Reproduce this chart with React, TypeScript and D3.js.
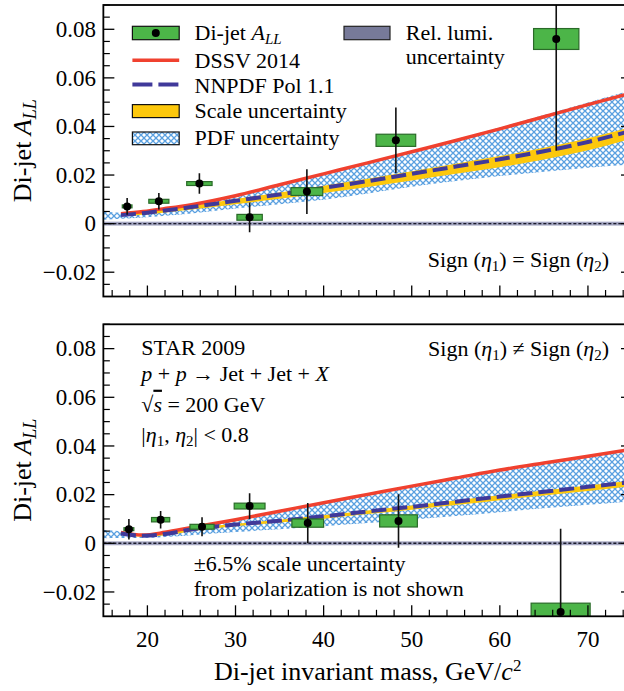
import React from "react";
import * as d3 from "d3";

// ---------- data ----------
const thX = [17, 19.5, 22, 25, 30, 35, 40, 45, 50, 55, 60, 65, 70, 75];
const pdfX = [15, 17, 19.5, 22, 25, 30, 35, 40, 45, 50, 55, 60, 65, 70, 75];

// Top panel: Sign(eta1) = Sign(eta2)
const topX = [17.7, 21.3, 25.9, 31.6, 38.1, 48.2, 66.4];
const topY = [0.0071, 0.0092, 0.0165, 0.0026, 0.0132, 0.0343, 0.076];
const topStat = [0.0034, 0.0034, 0.0042, 0.0061, 0.0092, 0.0135, 0.046];
const topSysX = [0.55, 1.14, 1.44, 1.44, 1.8, 2.25, 2.57];
const topSysY = [0.0006, 0.0008, 0.0008, 0.0012, 0.0016, 0.0025, 0.0043];
const dssvTop = [0.0041, 0.005, 0.0062, 0.0078, 0.0115, 0.016, 0.0205, 0.025, 0.0296, 0.0342, 0.039, 0.044, 0.049, 0.0538];
const nnpdfTop = [0.0035, 0.0043, 0.0054, 0.0068, 0.0094, 0.012, 0.0147, 0.0175, 0.0205, 0.0235, 0.0265, 0.0298, 0.0336, 0.0383];
const scaleHiTop = [0.0038, 0.0046, 0.0058, 0.0073, 0.0101, 0.0128, 0.0156, 0.0185, 0.0216, 0.0247, 0.0278, 0.0312, 0.0351, 0.0398];
const scaleLoTop = [0.0031, 0.0037, 0.0046, 0.0058, 0.008, 0.0102, 0.0126, 0.0151, 0.0178, 0.0205, 0.0232, 0.0264, 0.0302, 0.0351];
const pdfHiTop = [0.005, 0.0045, 0.0052, 0.0064, 0.008, 0.0118, 0.0163, 0.0208, 0.0254, 0.03, 0.0347, 0.0396, 0.0447, 0.0499, 0.055];
const pdfLoTop = [0.0016, 0.002, 0.0025, 0.0032, 0.0042, 0.0062, 0.008, 0.0098, 0.0124, 0.0152, 0.0175, 0.0196, 0.0214, 0.023, 0.0244];

// Bottom panel: Sign(eta1) != Sign(eta2)
const botX = [17.9, 21.5, 26.2, 31.6, 38.2, 48.5, 66.9];
const botY = [0.0058, 0.0097, 0.0068, 0.0153, 0.0083, 0.0092, -0.0282];
const botStat = [0.0042, 0.0036, 0.0039, 0.0053, 0.0083, 0.011, 0.0342];
const botSysX = [0.56, 1.03, 1.37, 1.75, 1.8, 2.14, 3.35];
const botSysY = [0.0006, 0.0009, 0.001, 0.0012, 0.0017, 0.0025, 0.0036];
const dssvBot = [0.0045, 0.0034, 0.0045, 0.0065, 0.0097, 0.0132, 0.0167, 0.0201, 0.0235, 0.0268, 0.0301, 0.033, 0.0358, 0.0387];
const nnpdfBot = [0.004, 0.0031, 0.0038, 0.0057, 0.0077, 0.0093, 0.0111, 0.0131, 0.015, 0.0171, 0.0192, 0.0212, 0.0232, 0.0252];
const scaleHiBot = [0.0042, 0.0033, 0.004, 0.006, 0.008, 0.0097, 0.0115, 0.0135, 0.0155, 0.0176, 0.0197, 0.0217, 0.0238, 0.0258];
const scaleLoBot = [0.0037, 0.0027, 0.0033, 0.005, 0.007, 0.0085, 0.0101, 0.012, 0.0138, 0.0157, 0.0177, 0.0196, 0.0215, 0.0235];
const pdfHiBot = [0.0055, 0.005, 0.0037, 0.0047, 0.0068, 0.0101, 0.0135, 0.0169, 0.0204, 0.0238, 0.0271, 0.0304, 0.0334, 0.0362, 0.0391];
const pdfLoBot = [0.0021, 0.0022, 0.0022, 0.0026, 0.0033, 0.0046, 0.0058, 0.007, 0.0083, 0.0097, 0.0112, 0.0128, 0.0144, 0.0158, 0.0172];

const relLumi = 0.0008;
const xMajorTicks = [20, 30, 40, 50, 60, 70];
const yMajorTicks = [-0.02, 0, 0.02, 0.04, 0.06, 0.08];
const yTickLabels = ["\u22120.02", "0", "0.02", "0.04", "0.06", "0.08"];

// ---------- style ----------
const FONT = "'Liberation Serif', 'Times New Roman', serif";
const GREEN = "#4cb548";
const GREEN_STROKE = "#2a6a28";
const RED = "#f0412f";
const PURPLE = "#40399a";
const YELLOW = "#fdc80c";
const HATCH = "#5aa0e0";
const LUMI = "#8c8fb0";

const W = 624;
const H = 691;
const xS = d3.scaleLinear().domain([15, 75]).range([103.35, 632]);

type PanelProps = {
  id: string;
  y0: number;
  y1: number;
  px: number[]; py: number[]; stat: number[]; sx: number[]; sy: number[];
  dssv: number[]; nn: number[]; sHi: number[]; sLo: number[]; pHi: number[]; pLo: number[];
  showXLabels: boolean;
  children?: React.ReactNode;
};

function Panel(p: PanelProps) {
  const yS = d3.scaleLinear().domain([-0.03, 0.09]).range([p.y1, p.y0]);
  const xl = xS.range()[0];
  const xr = xS.range()[1];
  const line = (ys: number[]) =>
    d3.line<number>().x((_, i) => xS(thX[i])).y((v) => yS(v)).curve(d3.curveMonotoneX)(ys) || "";
  const band = (xs: number[], lo: number[], hi: number[]) =>
    d3.area<number>().x((_, i) => xS(xs[i])).y0((_, i) => yS(lo[i])).y1((_, i) => yS(hi[i])).curve(d3.curveMonotoneX)(lo) || "";
  const xMinor = d3.range(16, 75, 2).filter((v) => v % 10 !== 0);
  const yMinor = d3.range(-0.025, 0.0901, 0.005).filter((v) => Math.abs(Math.round(v * 1000) % 20) !== 0);
  return (
    <g>
      <defs>
        <clipPath id={"clip-" + p.id}>
          <rect x={xl} y={p.y0} width={xr - xl} height={p.y1 - p.y0} />
        </clipPath>
      </defs>
      <g clipPath={`url(#clip-${p.id})`}>
        <path d={band(pdfX, p.pLo, p.pHi)} fill="url(#hatch)" />
        <path d={band(thX, p.sLo, p.sHi)} fill={YELLOW} />
        <rect x={xl} y={yS(relLumi)} width={xr - xl} height={yS(-relLumi) - yS(relLumi)} fill={LUMI} opacity={0.8} />
        <line x1={xl} x2={xr} y1={yS(0)} y2={yS(0)} stroke="#1a1a2a" strokeWidth={1.4} strokeDasharray="3 2" />
        <path d={line(p.dssv)} fill="none" stroke={RED} strokeWidth={3.5} />
        <path d={line(p.nn)} fill="none" stroke={PURPLE} strokeWidth={4} strokeDasharray="15 6" />
        {p.px.map((x, i) => (
          <rect key={"b" + i} x={xS(x - p.sx[i])} y={yS(p.py[i] + p.sy[i])}
            width={xS(x + p.sx[i]) - xS(x - p.sx[i])} height={yS(p.py[i] - p.sy[i]) - yS(p.py[i] + p.sy[i])}
            fill={GREEN} stroke={GREEN_STROKE} strokeWidth={1.2} />
        ))}
        {p.px.map((x, i) => (
          <line key={"e" + i} x1={xS(x)} x2={xS(x)} y1={yS(p.py[i] - p.stat[i])} y2={yS(p.py[i] + p.stat[i])}
            stroke="#111" strokeWidth={1.6} />
        ))}
        {p.px.map((x, i) => (
          <circle key={"c" + i} cx={xS(x)} cy={yS(p.py[i])} r={4} fill="#000" />
        ))}
      </g>
      {xMajorTicks.map((t) => (
        <line key={"xt" + t} x1={xS(t)} x2={xS(t)} y1={p.y1} y2={p.y1 - 11} stroke="#000" strokeWidth={1.3} />
      ))}
      {xMinor.map((t) => (
        <line key={"xm" + t} x1={xS(t)} x2={xS(t)} y1={p.y1} y2={p.y1 - 6.5} stroke="#000" strokeWidth={1.2} />
      ))}
      {yMajorTicks.map((t) => (
        <g key={"yt" + t}>
          <line x1={xl} x2={xl + 11} y1={yS(t)} y2={yS(t)} stroke="#000" strokeWidth={1.3} />
          <line x1={xr} x2={xr - 11} y1={yS(t)} y2={yS(t)} stroke="#000" strokeWidth={1.3} />
        </g>
      ))}
      {yMinor.map((t, i) => (
        <g key={"ym" + i}>
          <line x1={xl} x2={xl + 6.5} y1={yS(t)} y2={yS(t)} stroke="#000" strokeWidth={1.2} />
          <line x1={xr} x2={xr - 6.5} y1={yS(t)} y2={yS(t)} stroke="#000" strokeWidth={1.2} />
        </g>
      ))}
      <rect x={xl} y={p.y0} width={xr - xl} height={p.y1 - p.y0} fill="none" stroke="#000" strokeWidth={1.8} />
      {yMajorTicks.map((t, i) => (
        <text key={"yl" + t} x={96} y={yS(t)} dy="0.34em" textAnchor="end" fontSize={23} fontFamily={FONT}>
          {yTickLabels[i]}
        </text>
      ))}
      {p.showXLabels &&
        xMajorTicks.map((t) => (
          <text key={"xl" + t} x={xS(t)} y={p.y1 + 30.5} textAnchor="middle" fontSize={23} fontFamily={FONT}>
            {t}
          </text>
        ))}
      <text transform={`translate(31, ${(p.y0 + p.y1) / 2}) rotate(-90)`} textAnchor="middle" fontSize={26} fontFamily={FONT}>
        Di-jet <tspan fontStyle="italic">A</tspan>
        <tspan dy={5} fontSize={18} fontStyle="italic">LL</tspan>
      </text>
      {p.children}
    </g>
  );
}

export default function App() {
  const T = 22;
  const sub = (s: string, k: string) => (
    <>
      <tspan fontStyle="italic">η</tspan>
      <tspan dy={4} fontSize={15}>{s}</tspan>
      <tspan dy={-4}>{k}</tspan>
    </>
  );
  const legX = 132.4;
  const legW = 46.8;
  return (
    <svg width={W} height={H} style={{ position: "absolute", left: 0, top: 0, background: "#fff" }}
      xmlns="http://www.w3.org/2000/svg">
      <defs>
        <pattern id="hatch" width={6} height={6} patternUnits="userSpaceOnUse">
          <path d="M0,0 L6,6 M6,0 L0,6" stroke={HATCH} strokeWidth={1.3} fill="none" />
        </pattern>
      </defs>
      <Panel id="top" y0={5} y1={296.5} px={topX} py={topY} stat={topStat} sx={topSysX} sy={topSysY}
        dssv={dssvTop} nn={nnpdfTop} sHi={scaleHiTop} sLo={scaleLoTop} pHi={pdfHiTop} pLo={pdfLoTop} showXLabels={false}>
        <rect x={legX} y={26.3} width={legW} height={13.4} fill={GREEN} stroke="#111" strokeWidth={1.2} />
        <circle cx={legX + legW / 2} cy={33} r={4} fill="#000" />
        <text x={194.6} y={39.5} fontSize={T} fontFamily={FONT}>
          Di-jet <tspan fontStyle="italic">A</tspan><tspan dy={4} fontSize={15} fontStyle="italic">LL</tspan>
        </text>
        <line x1={legX} x2={legX + legW} y1={60.2} y2={60.2} stroke={RED} strokeWidth={3.5} />
        <text x={194.6} y={67.5} fontSize={T} fontFamily={FONT}>DSSV 2014</text>
        <line x1={legX} x2={legX + legW} y1={84.6} y2={84.6} stroke={PURPLE} strokeWidth={4} strokeDasharray="20 6" />
        <text x={194.6} y={92.5} fontSize={T} fontFamily={FONT}>NNPDF Pol 1.1</text>
        <rect x={legX} y={104.6} width={legW} height={13} fill={YELLOW} stroke="#111" strokeWidth={1.2} />
        <text x={194.6} y={118} fontSize={T} fontFamily={FONT}>Scale uncertainty</text>
        <rect x={legX} y={132} width={legW} height={12.7} fill="url(#hatch)" stroke="#111" strokeWidth={1.2} />
        <text x={194.6} y={145} fontSize={T} fontFamily={FONT}>PDF uncertainty</text>
        <rect x={344} y={26.3} width={46} height={13.4} fill="#777a99" stroke="#222" strokeWidth={1.2} />
        <text x={405.8} y={39.5} fontSize={T} fontFamily={FONT}>Rel. lumi.</text>
        <text x={405.8} y={64} fontSize={T} fontFamily={FONT}>uncertainty</text>
        <text x={609} y={267.4} textAnchor="end" fontSize={T} fontFamily={FONT}>
          Sign ({sub("1", ")")} = Sign ({sub("2", ")")}
        </text>
      </Panel>
      <Panel id="bot" y0={324.3} y1={616.3} px={botX} py={botY} stat={botStat} sx={botSysX} sy={botSysY}
        dssv={dssvBot} nn={nnpdfBot} sHi={scaleHiBot} sLo={scaleLoBot} pHi={pdfHiBot} pLo={pdfLoBot} showXLabels={true}>
        <text x={141.3} y={355} fontSize={T} fontFamily={FONT}>STAR 2009</text>
        <text x={141.3} y={381} fontSize={T} fontFamily={FONT}>
          <tspan fontStyle="italic">p</tspan> + <tspan fontStyle="italic">p</tspan> → Jet + Jet + <tspan fontStyle="italic">X</tspan>
        </text>
        <text x={141.3} y={411.7} fontSize={T} fontFamily={FONT}>
          √<tspan fontStyle="italic" style={{ textDecoration: "overline" }}>s</tspan> = 200 GeV
        </text>
        <text x={141.3} y={441.7} fontSize={T} fontFamily={FONT}>
          |{sub("1", ", ")}{sub("2", "| < 0.8")}
        </text>
        <text x={609} y={356} textAnchor="end" fontSize={T} fontFamily={FONT}>
          Sign ({sub("1", ")")} ≠ Sign ({sub("2", ")")}
        </text>
        <text x={193.8} y={570.7} fontSize={T} fontFamily={FONT}>±6.5% scale uncertainty</text>
        <text x={193.8} y={596} fontSize={T} fontFamily={FONT}>from polarization is not shown</text>
      </Panel>
      <text x={(xS.range()[0] + xS.range()[1]) / 2} y={679.5} textAnchor="middle" fontSize={26} fontFamily={FONT}>
        Di-jet invariant mass, GeV/<tspan fontStyle="italic">c</tspan><tspan dy={-9} fontSize={17}>2</tspan>
      </text>
    </svg>
  );
}
